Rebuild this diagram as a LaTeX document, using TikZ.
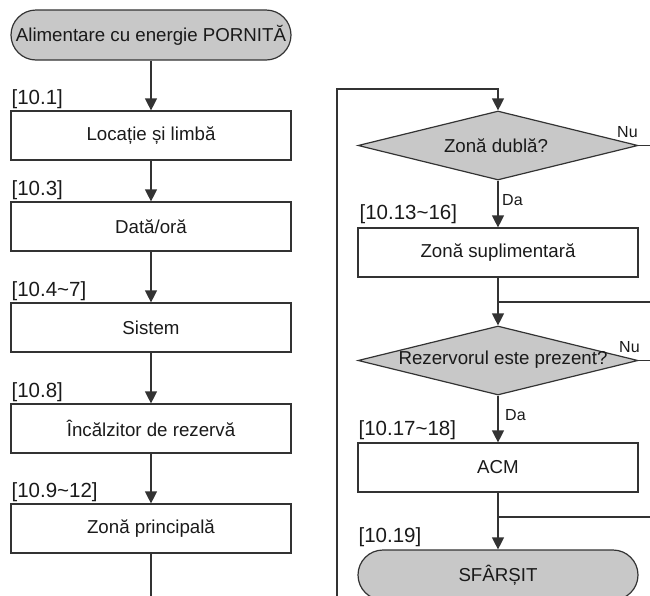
\documentclass[tikz,border=0pt]{standalone}
\usepackage{fontspec}
\setmainfont{Liberation Sans}
\usetikzlibrary{shapes.geometric,arrows.meta}
\definecolor{ln}{HTML}{333333}
\definecolor{gfill}{HTML}{C8C8C8}
\definecolor{txt}{HTML}{1A1A1A}
\begin{document}
\begin{tikzpicture}[x=1pt,y=-1pt,
  every node/.style={text=txt},
  box/.style={draw=ln, line width=1.2pt, minimum width=280pt, minimum height=49pt, inner sep=0pt, font=\fontsize{18.7}{22}\selectfont},
  term/.style={box, fill=gfill, rounded corners=25pt, minimum height=50pt},
  dec/.style={diamond, draw=ln, line width=1.2pt, fill=gfill, minimum width=280pt, minimum height=69pt, inner sep=0pt},
  dtext/.style={inner sep=0pt, font=\fontsize{18.7}{22}\selectfont},
  lab/.style={inner sep=0pt, anchor=south west, font=\fontsize{20.5}{24}\selectfont},
  yn/.style={inner sep=0pt, anchor=base west, font=\fontsize{16}{19}\selectfont},
  conn/.style={draw=ln, line width=1.2pt},
  arr/.style={conn, -{Triangle[width=12pt,length=12pt]}}
]
\useasboundingbox (0,0) rectangle (650,595);
\clip (0,0) rectangle (650,595);
% left column
\node[term] (start) at (151,35) {Alimentare cu energie PORNITĂ};
\node[box] (b1) at (151,135.5) {Locație și limbă};
\node[box] (b2) at (151,226.5) {Dată/oră};
\node[box] (b3) at (151,327.5) {Sistem};
\node[box] (b4) at (151,428.5) {Încălzitor de rezervă};
\node[box] (b5) at (151,528.5) {Zonă principală};
\node[lab] (l1) at ([xshift=1pt,yshift=1pt]b1.north west) {[10.1]};
\node[lab] (l2) at ([xshift=1pt,yshift=1pt]b2.north west) {[10.3]};
\node[lab] (l3) at ([xshift=1pt,yshift=1pt]b3.north west) {[10.4\char"007E 7]};
\node[lab] (l4) at ([xshift=1pt,yshift=1pt]b4.north west) {[10.8]};
\node[lab] (l5) at ([xshift=1pt,yshift=1pt]b5.north west) {[10.9\char"007E 12]};
\draw[arr] (start.south) -- (b1.north);
\draw[arr] (b1.south) -- (b2.north);
\draw[arr] (b2.south) -- (b3.north);
\draw[arr] (b3.south) -- (b4.north);
\draw[arr] (b4.south) -- (b5.north);
\coordinate (c1) at (151,600);
\draw[conn] (b5.south) -- (c1);
% right column
\node[dec] (d1) at (498,145.5) {};
\node[dtext] (d1t) at (496,145.5) {Zonă dublă?};
\node[box] (b6) at (498,252.5) {Zonă suplimentară};
\node[dec] (d2) at (498,360.5) {};
\node[dtext] (d2t) at (503,359.5) {Rezervorul este prezent?};
\node[box] (b7) at (498,467.5) {ACM};
\node[term] (end) at (498,575) {SFÂRȘIT};
\node[lab] (l6) at ([xshift=2pt,yshift=3pt]b6.north west) {[10.13\char"007E 16]};
\node[lab] (l7) at ([xshift=1pt,yshift=2pt]b7.north west) {[10.17\char"007E 18]};
\node[lab] (l8) at ([xshift=1pt,yshift=2pt]end.north west) {[10.19]};
\coordinate (c2) at (337,600);
\coordinate (c3) at (337,89);
\coordinate (c4) at (498,89);
\draw[arr] (c2) -- (c3) -- (c4) -- (d1.north);
\coordinate (n1) at (652,145.5);
\draw[conn] (d1.east) -- (n1);
\node[yn] (nu1) at (617,137) {Nu};
\draw[arr] (d1.south) -- (b6.north);
\node[yn] (da1) at (502,205) {Da};
\draw[arr] (b6.south) -- (d2.north);
\coordinate (j1) at (498,302);
\coordinate (j1e) at (652,302);
\draw[conn] (j1) -- (j1e);
\coordinate (n2) at (652,360.5);
\draw[conn] (d2.east) -- (n2);
\node[yn] (nu2) at (619,352) {Nu};
\draw[arr] (d2.south) -- (b7.north);
\node[yn] (da2) at (505,420) {Da};
\draw[arr] (b7.south) -- (end.north);
\coordinate (j2) at (498,517);
\coordinate (j2e) at (652,517);
\draw[conn] (j2) -- (j2e);
\end{tikzpicture}
\end{document}
